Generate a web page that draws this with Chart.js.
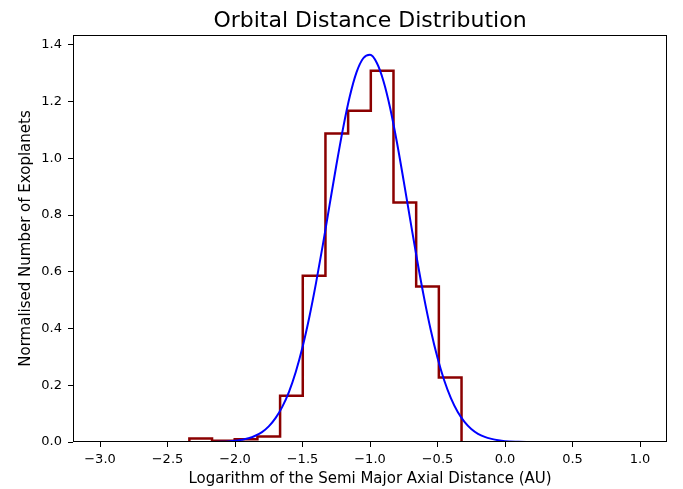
<!DOCTYPE html>
<html>
<head>
<meta charset="utf-8">
<script src="https://cdn.jsdelivr.net/npm/chart.js@4.4.1/dist/chart.umd.min.js"></script>
<style>
  body { margin: 0; background: #fff; }
  #wrap { width: 683px; height: 489px; position: relative; }
</style>
</head>
<body>
<div id="wrap"><canvas id="histchart"></canvas></div>
<script>
// histogram bins (log10 of semi major axis, AU)
var binEdges = [-2.338, -2.170, -2.002, -1.834, -1.666, -1.498, -1.330, -1.162, -0.994, -0.826, -0.658, -0.490, -0.322];
var binHeights = [0.012, 0.004, 0.010, 0.019, 0.163, 0.586, 1.088, 1.168, 1.309, 0.844, 0.548, 0.227];

// fitted curve
var fitX = [-3.0, -2.6, -2.2, -2.1, -2.05, -2.0, -1.95, -1.9, -1.85, -1.8, -1.75, -1.7, -1.65, -1.6, -1.55, -1.5,
    -1.45, -1.4, -1.35, -1.3, -1.25, -1.2, -1.15, -1.1, -1.05, -1.0, -0.95, -0.9, -0.85, -0.8, -0.75, -0.7,
    -0.65, -0.6, -0.55, -0.5, -0.45, -0.4, -0.35, -0.3, -0.25, -0.2, -0.15, -0.1, -0.05, 0.0, 0.1, 0.2, 0.6, 1.0];
var fitY = [0.000, 0.000, 0.000, 0.001, 0.002, 0.004, 0.008, 0.013, 0.022, 0.035, 0.055, 0.084, 0.124, 0.177, 0.247, 0.334,
    0.439, 0.560, 0.693, 0.834, 0.974, 1.105, 1.218, 1.303, 1.353, 1.365, 1.337, 1.272, 1.176, 1.055, 0.919, 0.778,
    0.639, 0.510, 0.395, 0.297, 0.217, 0.154, 0.106, 0.071, 0.046, 0.029, 0.018, 0.011, 0.006, 0.003, 0.001, 0.000, 0.000, 0.000];

var xTicks = [-3.0, -2.5, -2.0, -1.5, -1.0, -0.5, 0.0, 0.5, 1.0];
var yTicks = [0.0, 0.2, 0.4, 0.6, 0.8, 1.0, 1.2, 1.4];

var chartTitle = 'Orbital Distance Distribution';
var xLabel = 'Logarithm of the Semi Major Axial Distance (AU)';
var yLabel = 'Normalised Number of Exoplanets';

// step outline of the histogram
var histPoints = [{x: binEdges[0], y: 0}];
for (var i = 0; i < binHeights.length; i++) {
    histPoints.push({x: binEdges[i], y: binHeights[i]});
    histPoints.push({x: binEdges[i + 1], y: binHeights[i]});
}
histPoints.push({x: binEdges[binEdges.length - 1], y: 0});

var fitPoints = fitX.map(function (x, i) { return {x: x, y: fitY[i]}; });

function fmt(v) {
    return v.toFixed(1).replace('-', '\u2212');
}

var FONT = 'DejaVu Sans';

var framePlugin = {
    id: 'frame',
    afterDraw: function (chart) {
        var c = chart.ctx, a = chart.chartArea;
        c.save();
        c.strokeStyle = '#000';
        c.lineWidth = 1;
        c.strokeRect(Math.round(a.left) + 0.5, Math.round(a.top) + 0.5,
            Math.round(a.right - a.left) - 1, Math.round(a.bottom - a.top) - 1);
        c.fillStyle = '#000';
        c.font = '22px "' + FONT + '"';
        c.textAlign = 'center';
        c.textBaseline = 'alphabetic';
        c.fillText(chartTitle, (a.left + a.right) / 2, 27);
        c.restore();
    }
};

var ctx = document.getElementById('histchart').getContext('2d');
var myChart = new Chart(ctx, {
    type: 'line',
    data: {
        datasets: [{
            label: 'fit',
            data: fitPoints,
            borderColor: 'rgb(0, 0, 255)',
            borderWidth: 2,
            pointRadius: 0,
            cubicInterpolationMode: 'monotone',
            fill: false,
            order: 0
        },
        {
            label: 'hist',
            data: histPoints,
            borderColor: 'rgb(139, 0, 0)',
            borderWidth: 2.5,
            pointRadius: 0,
            tension: 0,
            fill: false,
            order: 1
        }]
    },
    options: {
        responsive: true,
        maintainAspectRatio: false,
        animation: false,
        layout: { padding: { top: 35, right: 16, left: 0, bottom: 0 } },
        plugins: {
            legend: { display: false },
            tooltip: { enabled: false },
            title: { display: false }
        },
        scales: {
            x: {
                type: 'linear',
                min: -3.2,
                max: 1.2,
                afterBuildTicks: function (scale) {
                    scale.ticks = xTicks.map(function (v) { return {value: v}; });
                },
                afterFit: function (scale) { scale.height = 47; },
                border: { display: false },
                grid: { drawOnChartArea: false, drawTicks: true, tickLength: 5, color: '#000' },
                ticks: {
                    padding: 5,
                    color: '#000',
                    maxRotation: 0,
                    font: { family: FONT, size: 13 },
                    callback: function (v) { return fmt(v); }
                },
                title: {
                    display: true,
                    text: xLabel,
                    color: '#000',
                    font: { family: FONT, size: 15 },
                    padding: { top: 0, bottom: 1 }
                }
            },
            y: {
                type: 'linear',
                min: 0,
                max: 1.435,
                afterBuildTicks: function (scale) {
                    scale.ticks = yTicks.map(function (v) { return {value: v}; });
                },
                afterFit: function (scale) { scale.width = 73; },
                border: { display: false },
                grid: { drawOnChartArea: false, drawTicks: true, tickLength: 5, color: '#000' },
                ticks: {
                    padding: 6,
                    color: '#000',
                    font: { family: FONT, size: 13 },
                    callback: function (v) { return fmt(v); }
                },
                title: {
                    display: true,
                    text: yLabel,
                    color: '#000',
                    font: { family: FONT, size: 15 },
                    padding: { top: 17, bottom: 0 }
                }
            }
        }
    },
    plugins: [framePlugin]
});
</script>
</body>
</html>
